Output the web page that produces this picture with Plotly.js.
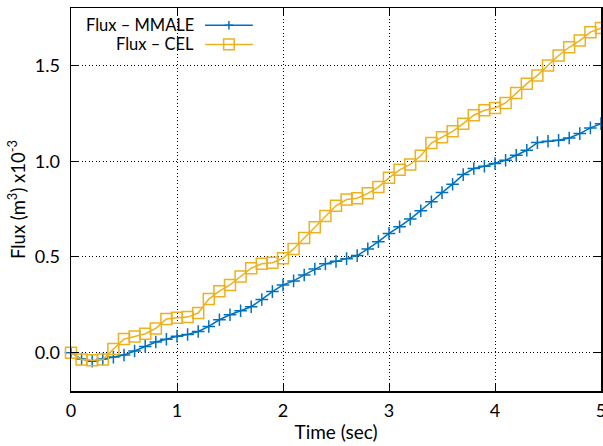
<!DOCTYPE html>
<html>
<head>
<meta charset="utf-8">
<script src="https://cdn.plot.ly/plotly-3.0.1.min.js"></script>
<style>html,body{margin:0;padding:0;background:#fff;}#chart{width:603px;height:446px;}</style>
</head>
<body>
<div id="chart"></div>
<script>
const time = [0.0,0.1,0.2,0.3,0.4,0.5,0.6,0.7,0.8,0.9,1.0,1.1,1.2,1.3,1.4,1.5,1.6,1.7,1.8,1.9,2.0,2.1,2.2,2.3,2.4,2.5,2.6,2.7,2.8,2.9,3.0,3.1,3.2,3.3,3.4,3.5,3.6,3.7,3.8,3.9,4.0,4.1,4.2,4.3,4.4,4.5,4.6,4.7,4.8,4.9,5.0];
const fluxMMALE = [0.0,-0.033,-0.045,-0.033,-0.023,-0.012,0.009,0.033,0.056,0.07,0.086,0.095,0.111,0.137,0.172,0.198,0.219,0.24,0.278,0.319,0.354,0.375,0.406,0.437,0.464,0.477,0.491,0.507,0.542,0.58,0.623,0.658,0.698,0.741,0.788,0.836,0.88,0.93,0.962,0.974,0.988,1.005,1.031,1.057,1.097,1.104,1.109,1.121,1.144,1.174,1.196];
const fluxCEL = [0.0,-0.036,-0.04,-0.036,0.019,0.071,0.085,0.099,0.127,0.176,0.182,0.186,0.207,0.28,0.321,0.354,0.398,0.441,0.464,0.47,0.493,0.542,0.599,0.655,0.714,0.767,0.8,0.807,0.832,0.865,0.913,0.955,0.983,1.028,1.095,1.125,1.156,1.196,1.24,1.266,1.278,1.304,1.356,1.405,1.448,1.5,1.552,1.595,1.63,1.674,1.695];
const seriesNames = ['Flux \u2013 MMALE', 'Flux \u2013 CEL'];
const xTickVals = [0,1,2,3,4,5];
const yTickVals = [0,0.5,1.0,1.5];

const blue = '#0072bd';
const orange = '#edb120';
const font = 'Lato, "Open Sans", sans-serif';

const traces = [
  {x: time, y: fluxMMALE, name: seriesNames[0], mode: 'lines+markers', type: 'scatter',
   line: {color: blue, width: 1.5},
   marker: {symbol: 'cross-thin-open', size: 9, color: blue, line: {color: blue, width: 1.5}},
   showlegend: false, cliponaxis: false},
  {x: time, y: fluxCEL, name: seriesNames[1], mode: 'lines+markers', type: 'scatter',
   line: {color: orange, width: 1.5},
   marker: {symbol: 'square-open', size: 11, color: orange, line: {color: orange, width: 1.5}},
   showlegend: false, cliponaxis: false}
];

// legend drawn gnuplot-style (text left, sample right) in paper coordinates
const legY = [0.955, 0.905];
const shapes = [];
const annotations = [];
seriesNames.forEach((n, i) => {
  const c = i === 0 ? blue : orange;
  annotations.push({xref: 'paper', yref: 'paper', x: 0.235, y: legY[i], xanchor: 'right', yanchor: 'middle',
    text: n, showarrow: false, font: {family: font, size: 16.5, color: '#000'}});
  shapes.push({type: 'line', xref: 'paper', yref: 'paper', x0: 0.253, x1: 0.343, y0: legY[i], y1: legY[i],
    line: {color: c, width: 1.5}});
});
// legend sample markers
shapes.push({type: 'line', xref: 'paper', yref: 'paper', x0: 0.298, x1: 0.298, y0: legY[0]-0.011, y1: legY[0]+0.011, line: {color: blue, width: 1.5}});
shapes.push({type: 'line', xref: 'paper', yref: 'paper', x0: 0.290, x1: 0.306, y0: legY[0], y1: legY[0], line: {color: blue, width: 1.5}});
shapes.push({type: 'rect', xref: 'paper', yref: 'paper', x0: 0.288, x1: 0.308, y0: legY[1]-0.014, y1: legY[1]+0.014, line: {color: orange, width: 1.5}});

const layout = {
  width: 603, height: 446,
  margin: {l: 71, r: 2, t: 8, b: 55},
  paper_bgcolor: '#fff', plot_bgcolor: '#fff',
  font: {family: font, size: 18, color: '#000'},
  xaxis: {range: [0, 5], tickvals: xTickVals, ticks: 'inside', ticklen: 7, tickcolor: '#000',
    showline: true, linecolor: '#000', linewidth: 1.5, mirror: 'ticks',
    showgrid: true, gridcolor: '#000', griddash: '1px,2.5px', gridwidth: 1, zeroline: false,
    ticklabelstandoff: 3, ticklabeloverflow: 'allow',
    title: {text: 'Time (sec)', font: {family: font, size: 19}, standoff: 5}},
  yaxis: {range: [-0.2, 1.8], tickvals: yTickVals, tickformat: '.1f', ticks: 'inside', ticklen: 7, tickcolor: '#000',
    showline: true, linecolor: '#000', linewidth: 1.5, mirror: 'ticks',
    showgrid: true, gridcolor: '#000', griddash: '1px,2.5px', gridwidth: 1, zeroline: false,
    ticklabelstandoff: 6,
    title: {text: 'Flux (m<sup>3</sup>) x10<sup>-3</sup>', font: {family: font, size: 18.5}, standoff: 4}},
  shapes: shapes,
  annotations: annotations,
  showlegend: false
};

Plotly.newPlot('chart', traces, layout, {displayModeBar: false, staticPlot: true});
</script>
</body>
</html>
